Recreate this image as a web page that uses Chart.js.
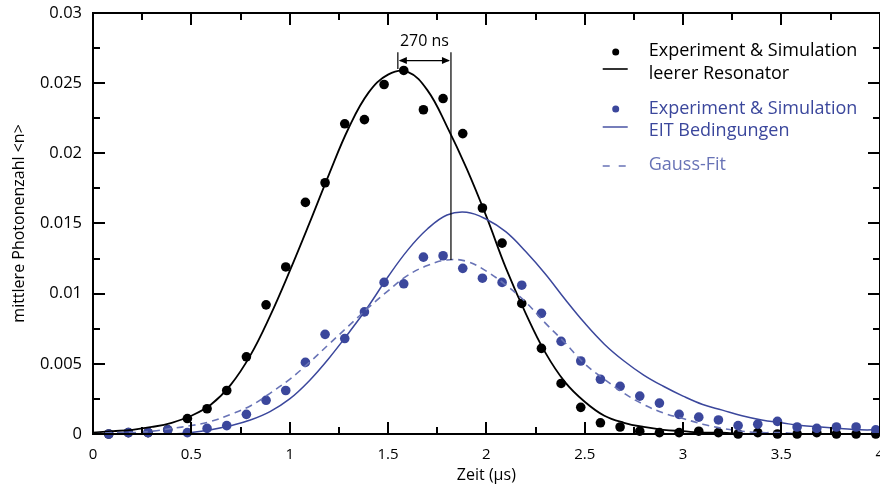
<!DOCTYPE html>
<html>
<head>
<meta charset="utf-8">
<script src="https://cdn.jsdelivr.net/npm/chart.js@4.4.0/dist/chart.umd.min.js"></script>
<style>
  html, body { margin: 0; padding: 0; background: #fff; overflow: hidden; }
  #wrap { width: 888px; height: 490px; position: relative; }
</style>
</head>
<body>
<div id="wrap"><canvas id="photonChart"></canvas></div>
<script>
// Measured points (time in µs)
const sampleTimes = [0.08, 0.18, 0.28, 0.38, 0.48, 0.58, 0.68, 0.78, 0.88, 0.98,
                     1.08, 1.18, 1.28, 1.38, 1.48, 1.58, 1.68, 1.78, 1.88, 1.98,
                     2.08, 2.18, 2.28, 2.38, 2.48, 2.58, 2.68, 2.78, 2.88, 2.98,
                     3.08, 3.18, 3.28, 3.38, 3.48, 3.58, 3.68, 3.78, 3.88, 3.98];
const emptyCavityPoints = [0.0000, 0.0001, 0.0001, 0.0003, 0.0011, 0.0018, 0.0031, 0.0055, 0.0092, 0.0119,
                           0.0165, 0.0179, 0.0221, 0.0224, 0.0249, 0.0259, 0.0231, 0.0239, 0.0214, 0.0161,
                           0.0136, 0.0093, 0.0061, 0.0036, 0.0019, 0.0008, 0.0005, 0.0002, 0.0001, 0.0001,
                           0.0002, 0.0001, 0.0000, 0.0001, 0.0000, 0.0000, 0.0001, 0.0000, 0.0000, 0.0000];
const eitPoints = [0.0000, 0.0001, 0.0001, 0.0003, 0.0001, 0.0004, 0.0006, 0.0014, 0.0024, 0.0031,
                   0.0051, 0.0071, 0.0068, 0.0087, 0.0108, 0.0107, 0.0126, 0.0127, 0.0118, 0.0111,
                   0.0108, 0.0106, 0.0086, 0.0066, 0.0052, 0.0039, 0.0034, 0.0027, 0.0022, 0.0014,
                   0.0012, 0.0010, 0.0006, 0.0007, 0.0009, 0.0005, 0.0004, 0.0005, 0.0005, 0.0003];

// Simulated curves on a 0.1 µs grid
const curveTimes = [0.0, 0.1, 0.2, 0.3, 0.4, 0.5, 0.6, 0.7, 0.8, 0.9,
                    1.0, 1.1, 1.2, 1.3, 1.4, 1.5, 1.6, 1.7, 1.8, 1.9,
                    2.0, 2.1, 2.2, 2.3, 2.4, 2.5, 2.6, 2.7, 2.8, 2.9,
                    3.0, 3.1, 3.2, 3.3, 3.4, 3.5, 3.6, 3.7, 3.8, 3.9, 4.0];
const emptyCavityCurve = [0.0001, 0.0002, 0.0003, 0.0005, 0.0008, 0.0013, 0.0021, 0.0035, 0.0056, 0.0084,
                          0.0116, 0.0150, 0.0185, 0.0218, 0.0243, 0.0256, 0.0258, 0.0245, 0.0219, 0.0189,
                          0.0155, 0.0118, 0.0086, 0.0058, 0.0037, 0.0023, 0.0013, 0.0008, 0.0005, 0.0003,
                          0.0002, 0.0001, 0.0001, 0.0000, 0.0000, 0.0000, 0.0000, 0.0000, 0.0000, 0.0000, 0.0000];
const eitCurve = [0.0000, 0.0000, 0.0000, 0.0000, 0.0000, 0.0001, 0.0003, 0.0006, 0.0010, 0.0016,
                  0.0025, 0.0038, 0.0054, 0.0072, 0.0091, 0.0112, 0.0131, 0.0146, 0.0156, 0.0158,
                  0.0153, 0.0144, 0.0130, 0.0114, 0.0096, 0.0079, 0.0064, 0.0052, 0.0042, 0.0034,
                  0.0027, 0.0021, 0.0017, 0.0013, 0.0010, 0.0008, 0.0006, 0.0005, 0.0004, 0.0003, 0.0003];
const gaussFit = [0.0000, 0.0001, 0.0001, 0.0002, 0.0004, 0.0006, 0.0009, 0.0014, 0.0020, 0.0029,
                  0.0039, 0.0051, 0.0064, 0.0077, 0.0090, 0.0102, 0.0113, 0.0120, 0.0124, 0.0123,
                  0.0116, 0.0106, 0.0094, 0.0079, 0.0065, 0.0050, 0.0039, 0.0029, 0.0021, 0.0015,
                  0.0011, 0.0007, 0.0004, 0.0002, 0.0001, 0.0001, 0.0000, 0.0000, 0.0000, 0.0000, 0.0000];

// Pulse maxima (µs) and their heights, used for the delay marker
const peakTimes = [1.55, 1.82];
const peakValues = [0.0260, 0.0124];
const delayLabel = '270 ns';

const xTicks = [0, 0.5, 1, 1.5, 2, 2.5, 3, 3.5, 4];
const xTickLabels = ['0', '0.5', '1', '1.5', '2', '2.5', '3', '3.5', '4'];
const yTicks = [0, 0.005, 0.01, 0.015, 0.02, 0.025, 0.03];
const yTickLabels = ['0', '0.005', '0.01', '0.015', '0.02', '0.025', '0.03'];

const BLACK = '#000000';
const BLUE = '#3b479c';
const LIGHT_BLUE = '#6873b6';
const FONT = '"Open Sans", "Noto Sans", sans-serif';

const toXY = (xs, ys) => xs.map((x, i) => ({ x: x, y: ys[i] }));

// Box around the plot with inward ticks on all four sides
const frameTicks = {
    id: 'frameTicks',
    afterDatasetsDraw(chart) {
        const ctx = chart.ctx;
        const a = chart.chartArea;
        const left = Math.round(a.left), right = Math.round(a.right);
        const top = Math.round(a.top), bottom = Math.round(a.bottom);
        ctx.save();
        ctx.fillStyle = '#000';
        // frame
        ctx.fillRect(left - 1, top - 1, right - left + 2, 2);
        ctx.fillRect(left - 1, bottom - 1, right - left + 2, 2);
        ctx.fillRect(left - 1, top - 1, 2, bottom - top + 2);
        ctx.fillRect(right - 1, top - 1, 2, bottom - top + 2);
        // ticks every 0.25 µs, longer on the labelled ones
        for (let k = 1; k < 16; k++) {
            const px = Math.round(chart.scales.x.getPixelForValue(k * 0.25));
            const len = (k % 2 === 0) ? 12 : 7;
            ctx.fillRect(px - 1, bottom - len, 2, len);
            ctx.fillRect(px - 1, top, 2, len);
        }
        // ticks every 0.0025, longer on the labelled ones
        for (let k = 1; k < 12; k++) {
            const py = Math.round(chart.scales.y.getPixelForValue(k * 0.0025));
            const len = (k % 2 === 0) ? 12 : 7;
            ctx.fillRect(left, py - 1, len, 2);
            ctx.fillRect(right - len, py - 1, len, 2);
        }
        ctx.restore();
    }
};

// Delay between the two maxima
const delayMarker = {
    id: 'delayMarker',
    afterDatasetsDraw(chart) {
        const { ctx, scales: { x, y } } = chart;
        const x0 = x.getPixelForValue(peakTimes[0]);
        const x1 = x.getPixelForValue(peakTimes[1]);
        const top = y.getPixelForValue(0.0272);
        const arrowY = y.getPixelForValue(0.0266);
        ctx.save();
        ctx.strokeStyle = '#000';
        ctx.fillStyle = '#000';
        ctx.lineWidth = 1.2;
        ctx.beginPath();
        ctx.moveTo(x0, top); ctx.lineTo(x0, y.getPixelForValue(peakValues[0]));
        ctx.moveTo(x1, top); ctx.lineTo(x1, y.getPixelForValue(peakValues[1]));
        ctx.moveTo(x0 + 2, arrowY); ctx.lineTo(x1 - 2, arrowY);
        ctx.stroke();
        ctx.beginPath();
        ctx.moveTo(x0 + 1, arrowY); ctx.lineTo(x0 + 9, arrowY - 3.5); ctx.lineTo(x0 + 9, arrowY + 3.5); ctx.closePath();
        ctx.moveTo(x1 - 1, arrowY); ctx.lineTo(x1 - 9, arrowY - 3.5); ctx.lineTo(x1 - 9, arrowY + 3.5); ctx.closePath();
        ctx.fill();
        ctx.font = '16px ' + FONT;
        ctx.textAlign = 'center';
        ctx.textBaseline = 'middle';
        ctx.fillText(delayLabel, (x0 + x1) / 2, top - 11);
        ctx.restore();
    }
};

// Legend in the upper right corner
const cornerLegend = {
    id: 'cornerLegend',
    afterDraw(chart) {
        const { ctx, chartArea: a } = chart;
        const dotX = a.right - 264;
        const lineL = a.right - 277, lineR = a.right - 252;
        const textX = a.right - 231;
        ctx.save();
        ctx.font = '18px ' + FONT;
        ctx.textBaseline = 'middle';
        ctx.textAlign = 'left';

        ctx.fillStyle = BLACK;
        ctx.beginPath(); ctx.arc(dotX, 52, 3.5, 0, Math.PI * 2); ctx.fill();
        ctx.fillText('Experiment & Simulation', textX, 51);
        ctx.fillText('leerer Resonator', textX, 74);
        ctx.strokeStyle = BLACK; ctx.lineWidth = 1.6;
        ctx.beginPath(); ctx.moveTo(lineL, 69); ctx.lineTo(lineR, 69); ctx.stroke();

        ctx.fillStyle = BLUE;
        ctx.beginPath(); ctx.arc(dotX, 109, 3.5, 0, Math.PI * 2); ctx.fill();
        ctx.fillText('Experiment & Simulation', textX, 109);
        ctx.fillText('EIT Bedingungen', textX, 131);
        ctx.strokeStyle = BLUE; ctx.lineWidth = 1.4;
        ctx.beginPath(); ctx.moveTo(lineL, 127); ctx.lineTo(lineR, 127); ctx.stroke();

        ctx.fillStyle = LIGHT_BLUE;
        ctx.fillText('Gauss-Fit', textX, 165);
        ctx.strokeStyle = LIGHT_BLUE;
        ctx.setLineDash([7, 9]);
        ctx.beginPath(); ctx.moveTo(lineL, 166); ctx.lineTo(lineR, 166); ctx.stroke();
        ctx.restore();
    }
};

new Chart(document.getElementById('photonChart'), {
    type: 'scatter',
    data: {
        datasets: [
            {
                label: 'Gauss-Fit',
                data: toXY(curveTimes, gaussFit),
                showLine: true,
                borderColor: LIGHT_BLUE,
                borderWidth: 1.6,
                borderDash: [7, 5],
                pointRadius: 0,
                tension: 0.4
            },
            {
                label: 'EIT Bedingungen',
                data: toXY(curveTimes, eitCurve),
                showLine: true,
                borderColor: BLUE,
                borderWidth: 1.5,
                pointRadius: 0,
                tension: 0.4
            },
            {
                label: 'leerer Resonator',
                data: toXY(curveTimes, emptyCavityCurve),
                showLine: true,
                borderColor: BLACK,
                borderWidth: 1.8,
                pointRadius: 0,
                tension: 0.4
            },
            {
                label: 'Experiment EIT',
                data: toXY(sampleTimes, eitPoints),
                backgroundColor: BLUE,
                borderWidth: 0,
                pointRadius: 4.8
            },
            {
                label: 'Experiment leer',
                data: toXY(sampleTimes, emptyCavityPoints),
                backgroundColor: BLACK,
                borderWidth: 0,
                pointRadius: 4.8
            }
        ]
    },
    options: {
        responsive: true,
        maintainAspectRatio: false,
        animation: false,
        clip: false,
        layout: { padding: { top: 11, left: 0, right: 0, bottom: 0 } },
        plugins: {
            legend: { display: false },
            tooltip: { enabled: false }
        },
        scales: {
            x: {
                type: 'linear',
                min: 0,
                max: 4,
                afterBuildTicks: s => { s.ticks = xTicks.map(v => ({ value: v })); },
                afterFit: s => { s.height = 56; },
                ticks: {
                    callback: (v, i) => xTickLabels[i],
                    color: '#000',
                    font: { family: FONT, size: 15 },
                    padding: 4,
                    maxRotation: 0,
                    autoSkip: false
                },
                grid: { display: false },
                border: { display: false },
                title: {
                    display: true,
                    text: 'Zeit (µs)',
                    color: '#000',
                    font: { family: FONT, size: 16 },
                    padding: { top: 0, bottom: 5 }
                }
            },
            y: {
                type: 'linear',
                min: 0,
                max: 0.03,
                afterBuildTicks: s => { s.ticks = yTicks.map(v => ({ value: v })); },
                afterFit: s => { s.width = 93; },
                ticks: {
                    callback: (v, i) => yTickLabels[i],
                    color: '#000',
                    font: { family: FONT, size: 16.5 },
                    padding: 3
                },
                grid: { display: false },
                border: { display: false },
                title: {
                    display: true,
                    text: 'mittlere Photonenzahl <n>',
                    color: '#000',
                    font: { family: FONT, size: 16 },
                    padding: { top: 10, bottom: 4 }
                }
            }
        }
    },
    plugins: [frameTicks, delayMarker, cornerLegend]
});
</script>
</body>
</html>
